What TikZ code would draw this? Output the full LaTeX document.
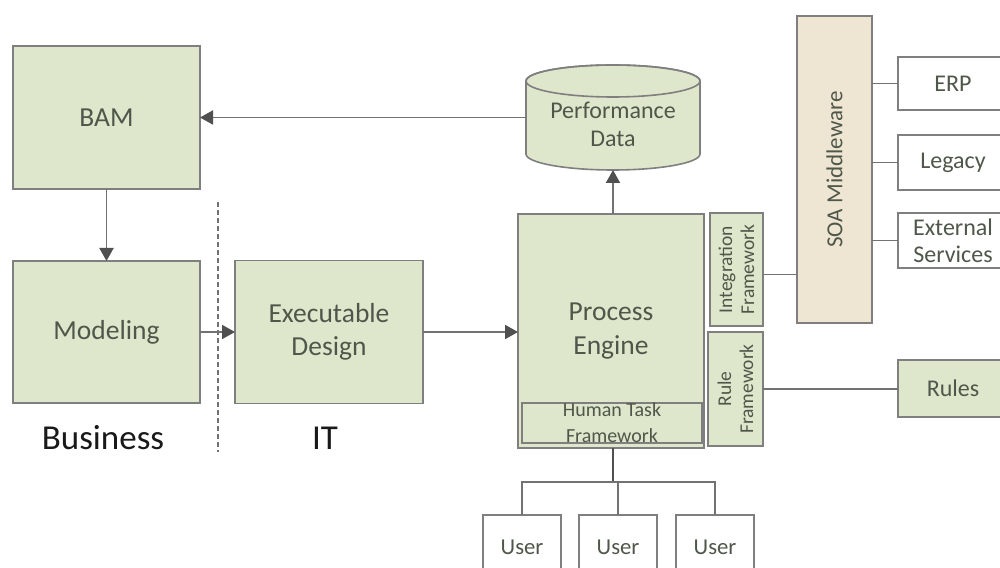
\documentclass[tikz,border=0pt]{standalone}
\usepackage{fontspec}
\setmainfont{Carlito}
\usetikzlibrary{arrows.meta}

\definecolor{boxgreen}{HTML}{DEE7CC}
\definecolor{boxbeige}{HTML}{EEE5D3}
\definecolor{edgegray}{HTML}{7F7F7F}
\definecolor{linkgray}{HTML}{727272}
\definecolor{tipgray}{HTML}{505050}
\definecolor{labelgray}{HTML}{4F574A}

\tikzset{
  fs/.style 2 args={font=\fontsize{#1}{#2}\selectfont},
  block/.style={draw=edgegray, line width=1.6pt, inner sep=0pt, outer sep=0pt,
                align=center, text=labelgray},
  greenbox/.style={block, fill=boxgreen},
  whitebox/.style={block, fill=white},
  beigebox/.style={block, fill=boxbeige},
  link/.style={draw=linkgray, line width=1.9pt},
  flow/.style={link, -{Triangle[length=13pt, width=14pt, color=tipgray]}},
  sidelabel/.style={text=black!90, inner sep=0pt, fs={35}{42}}
}

\begin{document}
\begin{tikzpicture}[x=1pt, y=1pt]
  \useasboundingbox (0,0) rectangle (1000,567);

  % business side
  \node[greenbox, fs={27.5}{33}, minimum width=187pt, minimum height=143pt] (bam) at (106.5,449.5) {BAM};
  \node[greenbox, fs={27.5}{33}, minimum width=187pt, minimum height=142pt] (model) at (106.5,235) {Modeling};
  \node[greenbox, fs={27.5}{33}, minimum width=188pt, minimum height=143pt] (exec) at (329,235) {Executable\\Design};

  \node[sidelabel] (business) at (103,129) {Business};
  \node[sidelabel] (it) at (325,129) {IT};

  % business / IT separator
  \coordinate (sepTop) at (218,365);
  \coordinate (sepBot) at (218,115);
  \draw[draw=linkgray, line width=1.4pt, dash pattern=on 5pt off 3pt] (sepTop) -- (sepBot);

  % process engine with its frameworks
  \node[greenbox, fs={27.5}{34}, minimum width=186pt, minimum height=234pt] (engine) at (611,236) {Process\\Engine};
  \node[greenbox, fs={20}{26}, minimum width=180pt, minimum height=40pt] (human) at (612,144) {Human Task\\Framework};
  \node[greenbox, minimum width=53pt, minimum height=113pt] (integ) at (736.5,297.5) {};
  \node[rotate=90, fs={19.5}{22}, text=labelgray, align=center, inner sep=0pt] (integtext) at (integ.center) {Integration\\Framework};
  \node[greenbox, minimum width=55pt, minimum height=114pt] (rulefw) at (735.5,178) {};
  \node[rotate=90, fs={19.5}{22}, text=labelgray, align=center, inner sep=0pt] (ruletext) at (rulefw.center) {Rule\\Framework};

  % performance data store
  \node[minimum width=174pt, minimum height=105pt, inner sep=0pt, outer sep=0pt] (perf) at (613,449.5) {};
  \draw[draw=edgegray, line width=1.6pt, fill=boxgreen]
    ([yshift=-16pt]perf.north west) -- ([yshift=16pt]perf.south west)
    arc[start angle=180, end angle=360, x radius=87pt, y radius=16pt]
    -- ([yshift=-16pt]perf.north east)
    arc[start angle=0, end angle=180, x radius=87pt, y radius=16pt] -- cycle;
  \draw[draw=edgegray, line width=1.6pt] ([yshift=-16pt]perf.north) ellipse[x radius=87pt, y radius=16pt];
  \node[fs={24}{28}, text=labelgray, align=center, inner sep=0pt] (perftext) at (613,443) {Performance\\Data};

  % middleware and back-end systems
  \node[beigebox, minimum width=75pt, minimum height=307pt] (soa) at (834.5,397.5) {};
  \node[rotate=90, fs={23}{27}, text=labelgray, inner sep=0pt] (soatext) at (soa.center) {SOA Middleware};
  \node[whitebox, fs={24}{27}, minimum width=110pt, minimum height=53pt] (erp) at (953,483.5) {ERP};
  \node[whitebox, fs={24}{27}, minimum width=110pt, minimum height=55pt] (legacy) at (953,404.5) {Legacy};
  \node[whitebox, fs={24}{27}, minimum width=110pt, minimum height=55pt] (ext) at (953,326.5) {External\\Services};
  \node[greenbox, fs={24}{27}, minimum width=110pt, minimum height=57pt] (rules) at (953,178.5) {Rules};

  % users
  \node[whitebox, fs={22.7}{27}, minimum width=78pt, minimum height=65pt] (u1) at (522,19.5) {User};
  \node[whitebox, fs={22.7}{27}, minimum width=78pt, minimum height=65pt] (u2) at (618,19.5) {User};
  \node[whitebox, fs={22.7}{27}, minimum width=78pt, minimum height=65pt] (u3) at (715,19.5) {User};

  % flows
  \draw[flow] (perf.west) -- (bam.east);
  \draw[flow] (bam.south) -- (model.north);
  \draw[flow] (model.east) -- (exec.west);
  \draw[flow] (exec.east) -- (exec.east -| engine.west);
  \draw[flow] (perf.south |- engine.north) -- (perf.south);

  % plain connections
  \draw[link] ([yshift=-5pt]integ.east) -- ([yshift=-5pt]integ.east -| soa.west);
  \draw[link] (rulefw.east) -- (rulefw.east -| rules.west);
  \draw[link] (erp.west -| soa.east) -- (erp.west);
  \draw[link] (legacy.west -| soa.east) -- (legacy.west);
  \draw[link] (ext.west -| soa.east) -- (ext.west);

  % user tree
  \coordinate (bar) at (613,85);
  \draw[link, line width=2.6pt, draw=tipgray] (engine.south -| bar) -- (bar);
  \draw[link, line width=1.5pt] (u1.north) -- (u1.north |- bar) -- (u3.north |- bar) -- (u3.north);
  \draw[link, line width=1.5pt] (u2.north) -- (u2.north |- bar);
\end{tikzpicture}
\end{document}
